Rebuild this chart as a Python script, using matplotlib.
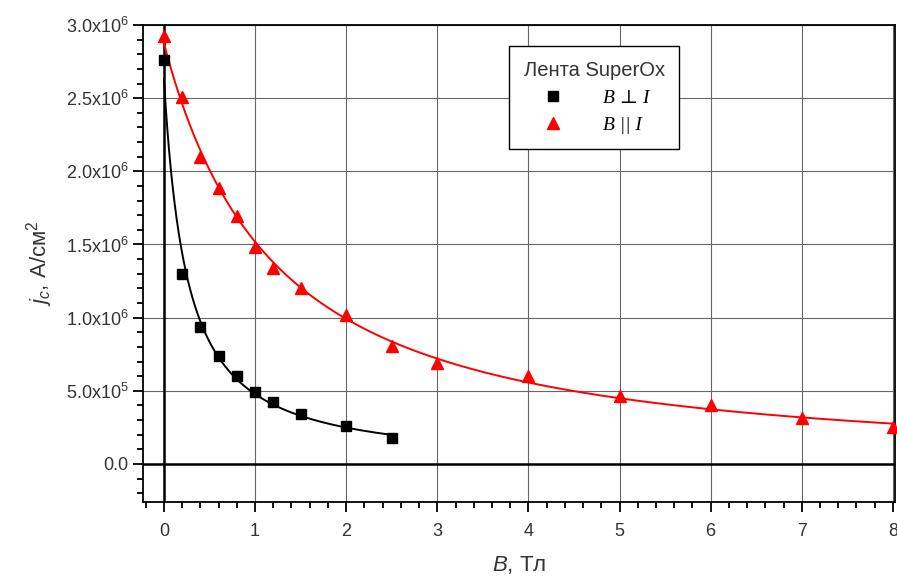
"""Critical current density of SuperOx tape vs magnetic field."""
import matplotlib
matplotlib.use("Agg")
import matplotlib.pyplot as plt
import numpy as np
from matplotlib.ticker import FuncFormatter, MultipleLocator

plt.rcParams["font.family"] = ["Liberation Sans", "DejaVu Sans"]
plt.rcParams["mathtext.fontset"] = "custom"
plt.rcParams["mathtext.rm"] = "Liberation Sans"
plt.rcParams["mathtext.it"] = "Liberation Sans:italic"

# measured points
b_perp = [0.0, 0.2, 0.4, 0.6, 0.8, 1.0, 1.2, 1.5, 2.0, 2.5]
jc_perp = [2.76e6, 1.30e6, 0.936e6, 0.738e6, 0.60e6, 0.49e6, 0.424e6,
           0.342e6, 0.26e6, 0.178e6]
b_par = [0.0, 0.2, 0.4, 0.6, 0.8, 1.0, 1.2, 1.5, 2.0, 2.5, 3.0, 4.0, 5.0,
         6.0, 7.0, 8.0]
jc_par = [2.925e6, 2.508e6, 2.098e6, 1.886e6, 1.695e6, 1.483e6, 1.34e6,
          1.203e6, 1.018e6, 0.807e6, 0.69e6, 0.60e6, 0.465e6, 0.403e6,
          0.314e6, 0.253e6]

x_ticks = [0, 1, 2, 3, 4, 5, 6, 7, 8]
y_ticks = [0.0, 0.5e6, 1.0e6, 1.5e6, 2.0e6, 2.5e6, 3.0e6]


def fit_curve(b, j, n=400):
    """Least-squares j = a*(B+b0)^-c, grid search on b0."""
    b = np.asarray(b)
    j = np.asarray(j)
    best = None
    for b0 in np.logspace(-3, 1, 400):
        p = np.polyfit(np.log(b + b0), np.log(j), 1)
        res = np.sum((np.polyval(p, np.log(b + b0)) - np.log(j)) ** 2)
        if best is None or res < best[0]:
            best = (res, b0, p)
    _, b0, p = best
    xs = np.linspace(b.min(), b.max(), n)
    return xs, np.exp(np.polyval(p, np.log(xs + b0)))


def y_fmt(v, _pos):
    if abs(v) < 1:
        return "0.0"
    exp = int(np.floor(np.log10(abs(v))))
    return f"{v / 10**exp:.1f}x10$^{{{exp}}}$"


fig = plt.figure(figsize=(8.97, 5.77), dpi=100)
ax = fig.add_axes([0.1594, 0.13, 0.838, 0.8267])

ax.grid(True, which="major", color="#666666", linewidth=0.8)
ax.axhline(0, color="black", linewidth=1.8, zorder=2)
ax.axvline(0, color="black", linewidth=1.8, zorder=2)

xs, ys = fit_curve(b_perp, jc_perp)
ax.plot(xs, ys, color="black", linewidth=1.4, zorder=3)
xs, ys = fit_curve(b_par, jc_par)
ax.plot(xs, ys, color="red", linewidth=1.4, zorder=3)

h1, = ax.plot(b_perp, jc_perp, "s", color="black", markersize=7, zorder=4,
              label="B ⊥ I", clip_on=False)
h2, = ax.plot(b_par, jc_par, "^", color="red", markersize=8, zorder=4,
              label="B || I", clip_on=False)

ax.set_xlim(-0.23, 8.02)
ax.set_ylim(-0.26e6, 3.0e6)
ax.set_xticks(x_ticks)
ax.set_yticks(y_ticks)
ax.xaxis.set_minor_locator(MultipleLocator(0.2))
ax.yaxis.set_minor_locator(MultipleLocator(1e5))
ax.yaxis.set_major_formatter(FuncFormatter(y_fmt))
ax.tick_params(which="both", direction="out", colors="black",
               labelcolor="#333333", labelsize=13, width=1.3,
               top=False, right=False)
ax.tick_params(which="major", length=7)
ax.tick_params(which="minor", length=4)
ax.tick_params(axis="x", pad=8)
for s in ax.spines.values():
    s.set_linewidth(1.3)

ax.set_xlabel("$\\mathit{B}$, Тл", fontsize=16, color="#333333", labelpad=10)
ax.set_ylabel("$j_c$, А/см$^2$", fontsize=16, color="#333333", labelpad=8)

leg = ax.legend(handles=[h1, h2], title="Лента SuperOx",
                loc="upper left", bbox_to_anchor=(0.487, 0.956),
                borderaxespad=0.0,
                frameon=True, fancybox=False, edgecolor="black",
                framealpha=1, borderpad=0.75, handletextpad=1.8,
                handlelength=1.5, labelspacing=0.5,
                prop={"family": ["Liberation Serif", "DejaVu Serif"],
                      "style": "italic", "size": 14})
leg.get_title().set_fontsize(14.5)
leg.get_title().set_color("#333333")
leg.get_frame().set_linewidth(1.0)

fig.savefig("out.png", dpi=100)
